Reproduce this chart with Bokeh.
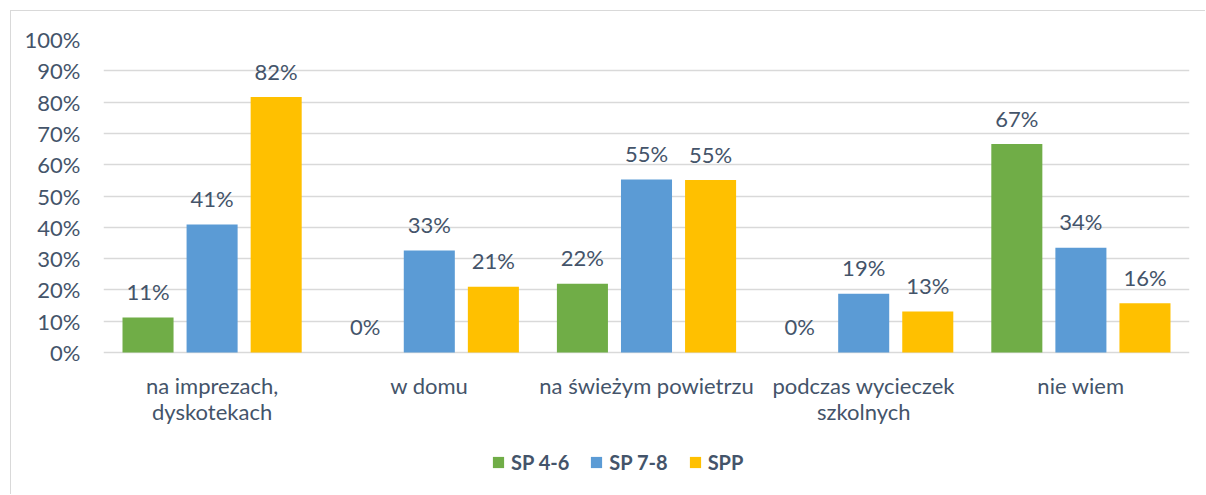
from bokeh.plotting import figure
from bokeh.models import ColumnDataSource, FactorRange, Legend, LegendItem, Range1d, FixedTicker
from bokeh.transform import dodge
from bokeh.core.properties import value
from bokeh.embed import file_html
from bokeh.resources import INLINE

categories = ["na imprezach, dyskotekach", "w domu", "na świeżym powietrzu",
              "podczas wycieczek szkolnych", "nie wiem"]
label_line1 = ["na imprezach,", "w domu", "na świeżym powietrzu", "podczas wycieczek", "nie wiem"]
label_line2 = ["dyskotekach", "", "", "szkolnych", ""]
series = ["SP 4-6", "SP 7-8", "SPP"]
sp46 = [11.2, 0.0, 22.0, 0.0, 66.6]
sp78 = [40.9, 32.6, 55.3, 18.8, 33.5]
spp = [81.6, 21.0, 55.1, 13.1, 15.7]
y_ticks = [0, 10, 20, 30, 40, 50, 60, 70, 80, 90, 100]

colors = ["#70AD47", "#5B9BD5", "#FFC000"]
text_color = "#44546A"
grid_color = "#D9D9D9"
FONT = "Lato"

data = dict(cat=categories, sp46=sp46, sp78=sp78, spp=spp,
            line1=label_line1, line2=label_line2, zero=[0] * len(categories))
for key, vals in (("sp46", sp46), ("sp78", sp78), ("spp", spp)):
    data[key + "_lbl"] = [f"{round(v)}%" for v in vals]
src = ColumnDataSource(data)

W, H = 1195, 484
frame_top, frame_h, zero_px = 28, H - 28, 313  # px: frame top, frame height, 0%..100% span
y_min = -(frame_h - zero_px) * 100.0 / zero_px

p = figure(width=W, height=H, x_range=FactorRange(*categories, range_padding=0),
           y_range=Range1d(y_min, 100), output_backend="svg", toolbar_location=None,
           min_border_left=92, min_border_right=17, min_border_top=frame_top,
           min_border_bottom=0)
p.styles = {"margin-left": "10px", "margin-top": "10px",
            "border-left": f"1px solid {grid_color}", "border-top": f"1px solid {grid_color}"}
p.outline_line_color = None
p.xaxis.visible = False

offset = 0.295
bw = 0.235
renderers = []
for i, (key, col) in enumerate(zip(["sp46", "sp78", "spp"], colors)):
    off = (i - 1) * offset
    r = p.vbar(x=dodge("cat", off, range=p.x_range), top=key, width=bw, source=src,
               fill_color=col, line_color=None)
    renderers.append(r)
    p.text(x=dodge("cat", off, range=p.x_range), y=key, text=key + "_lbl", source=src,
           text_align="center", text_baseline="middle", y_offset=-26,
           text_font=value(FONT), text_font_size="22px", text_color=text_color)

# category labels below the 0% line
for col, dy in (("line1", 33), ("line2", 59)):
    p.text(x="cat", y="zero", text=col, source=src, text_align="center",
           text_baseline="middle", y_offset=dy, text_font=value(FONT),
           text_font_size="22px", text_color=text_color)

p.xgrid.grid_line_color = None
p.ygrid.grid_line_color = grid_color
p.ygrid.grid_line_width = 1.3
p.ygrid.ticker = FixedTicker(ticks=y_ticks)

p.yaxis.ticker = FixedTicker(ticks=y_ticks)
p.yaxis.major_label_overrides = {t: f"{t}%" for t in y_ticks}
p.yaxis.axis_line_color = None
p.yaxis.major_tick_line_color = None
p.yaxis.minor_tick_line_color = None
p.yaxis.major_label_standoff = 17
p.yaxis.major_label_text_font = FONT
p.yaxis.major_label_text_font_size = "22px"
p.yaxis.major_label_text_color = text_color

legend = Legend(items=[LegendItem(label=s, renderers=[r]) for s, r in zip(series, renderers)],
                orientation="horizontal", location=(388, 21),
                border_line_color=None, background_fill_alpha=0,
                label_text_font=FONT, label_text_font_style="bold",
                label_text_font_size="20px", label_text_color=text_color,
                glyph_width=14, glyph_height=14, label_standoff=6, spacing=20,
                margin=0, padding=0)
p.add_layout(legend, "center")

open("out.html", "w").write(file_html(p, INLINE))
